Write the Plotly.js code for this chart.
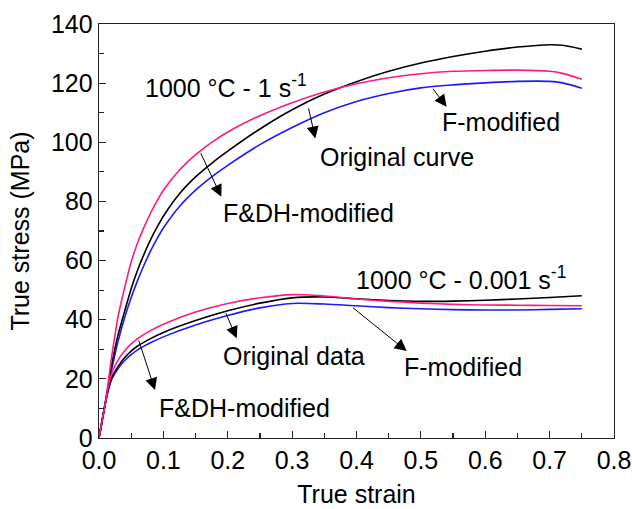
<!DOCTYPE html>
<html>
<head>
<meta charset="utf-8">
<script src="https://cdn.plot.ly/plotly-3.0.1.min.js"></script>
<style>html,body{margin:0;padding:0;background:#fff;}#chart{width:632px;height:509px;}</style>
</head>
<body>
<div id="chart"></div>
<script>
// 1000 °C - 1 s^-1
var strainHigh = [0, 0.01, 0.015, 0.02, 0.025, 0.03, 0.04, 0.05, 0.06, 0.07, 0.08, 0.09, 0.1, 0.125, 0.15, 0.175, 0.2, 0.25, 0.3, 0.35, 0.4, 0.45, 0.5, 0.55, 0.6, 0.65, 0.7, 0.72, 0.75];
var origHigh  = [0, 12, 18.5, 25, 30.5, 35.2, 43, 50.5, 56.8, 62.2, 67, 71.2, 75, 82.6, 88.3, 92.9, 97, 104.5, 111, 116.3, 120.5, 124, 126.8, 129, 130.8, 132.2, 133, 132.8, 131.5];
var fdhHigh   = [0, 12, 20, 28, 35, 41.5, 51, 59.5, 66, 71.3, 76, 80.1, 83.8, 90.6, 95.8, 100, 103.5, 109, 113.4, 117, 119.8, 121.8, 123.2, 124, 124.3, 124.4, 124, 123.3, 121.3];
var fHigh     = [0, 12, 18, 23.5, 28.5, 33, 40.8, 47.5, 53.3, 58.5, 63.2, 67.3, 71, 78.3, 83.8, 88.3, 92.2, 99.2, 105, 110, 113.8, 116.5, 118.4, 119.4, 120.1, 120.6, 120.6, 120.1, 118.3];

// 1000 °C - 0.001 s^-1
var strainLow = [0, 0.01, 0.015, 0.02, 0.03, 0.04, 0.05, 0.06, 0.08, 0.1, 0.15, 0.2, 0.25, 0.3, 0.35, 0.4, 0.45, 0.5, 0.55, 0.6, 0.65, 0.7, 0.75];
var origLow   = [0, 12, 17, 20.5, 24.3, 27.2, 29.4, 31.1, 33.6, 35.7, 39.7, 43, 45.6, 47.4, 47.7, 47.1, 46.5, 46.2, 46.3, 46.6, 47, 47.5, 48.1];
var fdhLow    = [0, 12, 18, 22, 26.5, 29.5, 31.8, 33.6, 36.3, 38.5, 42.6, 45.5, 47.4, 48.5, 48, 47, 46.2, 45.6, 45.2, 45, 44.9, 44.8, 44.7];
var fLow      = [0, 12, 16.5, 20, 23.6, 26.2, 28.2, 29.8, 32.2, 34.2, 38.2, 41.4, 44, 45.5, 45.3, 44.7, 44.1, 43.7, 43.4, 43.3, 43.3, 43.5, 43.7];

var xTickVals = [0, 0.1, 0.2, 0.3, 0.4, 0.5, 0.6, 0.7, 0.8];
var xTickText = ['0.0', '0.1', '0.2', '0.3', '0.4', '0.5', '0.6', '0.7', '0.8'];
var yTickVals = [0, 20, 40, 60, 80, 100, 120, 140];

var BLACK = '#000000', PINK = '#FF1A7F', BLUE = '#1A1AFF';
function line(x, y, c, name) {
  return {x: x, y: y, type: 'scatter', mode: 'lines', name: name,
          line: {color: c, width: 1.6, shape: 'spline', smoothing: 0.8}, hoverinfo: 'skip'};
}
var traces = [
  line(strainHigh, fHigh, BLUE, 'F-modified'),
  line(strainHigh, origHigh, BLACK, 'Original curve'),
  line(strainHigh, fdhHigh, PINK, 'F&DH-modified'),
  line(strainLow, fLow, BLUE, 'F-modified'),
  line(strainLow, origLow, BLACK, 'Original data'),
  line(strainLow, fdhLow, PINK, 'F&DH-modified')
];

var F = {family: 'Liberation Sans, Arial, sans-serif', size: 25, color: '#000'};
function label(t, x, y) {
  return {text: t, x: x, y: y, xref: 'x', yref: 'y', xanchor: 'left', yanchor: 'middle', showarrow: false, font: F};
}
function arrow(x, y, ax, ay) {
  return {text: '', x: x, y: y, ax: ax, ay: ay, xref: 'x', yref: 'y', axref: 'x', ayref: 'y',
          showarrow: true, arrowhead: 2, arrowsize: 2.4, arrowwidth: 1, arrowcolor: '#000', standoff: 0, startstandoff: 0};
}
var annotations = [
  label('1000 °C - 1 s<sup>-1</sup>', 0.068, 119),
  label('1000 °C - 0.001 s<sup>-1</sup>', 0.396, 54),
  label('F&DH-modified', 0.19, 76),
  label('Original curve', 0.34, 95),
  label('F-modified', 0.53, 107),
  label('Original data', 0.19, 27.7),
  label('F-modified', 0.47, 24),
  label('F&DH-modified', 0.09, 10.1),
  arrow(0.19, 81.6, 0.157, 96.8),
  arrow(0.336, 101.3, 0.325, 112),
  arrow(0.54, 112, 0.517, 118.6),
  arrow(0.214, 33.7, 0.196, 42.7),
  arrow(0.478, 29.4, 0.3925, 44.4),
  arrow(0.087, 16.2, 0.061, 33.5)
];

var axisCommon = {
  showline: true, linecolor: '#222', linewidth: 1.3, mirror: true,
  ticks: 'inside', ticklen: 7, tickwidth: 1.2, tickcolor: '#222',
  showgrid: false, zeroline: false,
  tickfont: F
};
var layout = {
  width: 632, height: 509,
  margin: {l: 99, r: 18, t: 24, b: 71},
  paper_bgcolor: '#fff', plot_bgcolor: '#fff',
  showlegend: false,
  xaxis: Object.assign({}, axisCommon, {
    range: [0, 0.8], tickvals: xTickVals, ticktext: xTickText,
    minor: {dtick: 0.05, tick0: 0, ticks: 'inside', ticklen: 5, tickwidth: 1.2, tickcolor: '#222'},
    title: {text: 'True strain', font: F, standoff: 12}
  }),
  yaxis: Object.assign({}, axisCommon, {
    range: [0, 140], tickvals: yTickVals,
    minor: {dtick: 10, tick0: 0, ticks: 'inside', ticklen: 5, tickwidth: 1.2, tickcolor: '#222'},
    title: {text: 'True stress (MPa)', font: F, standoff: 14}
  }),
  annotations: annotations
};
Plotly.newPlot('chart', traces, layout, {displayModeBar: false, staticPlot: true});
</script>
</body>
</html>
